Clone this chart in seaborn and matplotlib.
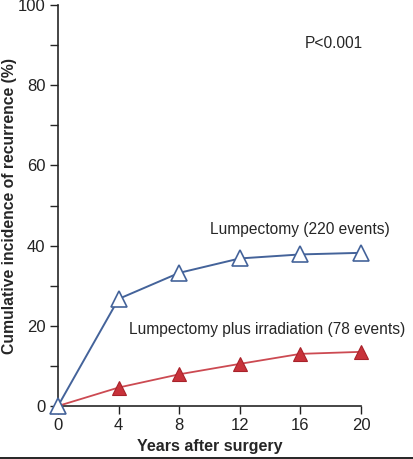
import matplotlib
matplotlib.use("Agg")
import matplotlib.pyplot as plt
import seaborn as sns
import pandas as pd

# data
years = [0, 4, 8, 12, 16, 20]
lumpectomy = [0, 26.7, 33.2, 36.8, 37.8, 38.2]
lump_irrad = [0, 4.6, 7.9, 10.5, 13.0, 13.5]

sns.set_style("ticks")
plt.rcParams['font.family'] = ['Liberation Sans', 'DejaVu Sans']

df = pd.DataFrame({
    "Years": years * 2,
    "Incidence": lumpectomy + lump_irrad,
    "Group": ["Lumpectomy"] * len(years) + ["Irradiation"] * len(years),
})

fig = plt.figure(figsize=(4.13, 4.59), dpi=100)
ax = fig.add_axes([0.1404, 0.1155, 0.7336, 0.8735])

blue = "#44639a"
red = "#c8323a"

sns.lineplot(data=df[df.Group == "Irradiation"], x="Years", y="Incidence", ax=ax,
             color="#cc4a52", lw=1.3, marker="^", markersize=10,
             markerfacecolor=red, markeredgecolor="#a8222a", markeredgewidth=0.8,
             clip_on=False, zorder=3)
sns.lineplot(data=df[df.Group == "Lumpectomy"], x="Years", y="Incidence", ax=ax,
             color=blue, lw=1.4, marker="^", markersize=11,
             markerfacecolor="white", markeredgecolor=blue, markeredgewidth=1.2,
             clip_on=False, zorder=4)

ax.set_xlim(0, 20)
ax.set_ylim(0, 100)
ax.set_xticks(years)
ax.set_yticks(range(0, 101, 20))
ax.set_yticks(range(10, 100, 20), minor=True)
ax.tick_params(axis="both", labelsize=12, length=6, width=1, pad=3, colors="#222222")
ax.tick_params(axis="y", which="minor", length=6, width=1)
sns.despine(ax=ax)
for s in ["left", "bottom"]:
    ax.spines[s].set_linewidth(1.2)

ax.set_xlabel("Years after surgery", fontsize=11.5, fontweight="bold", labelpad=4)
ax.set_ylabel("Cumulative incidence of recurrence (%)", fontsize=11.3,
              fontweight="bold")
ax.yaxis.set_label_coords(-0.135, 0.5)

ax.text(16.3, 90.5, "P<0.001", fontsize=11.2, ha="left", va="center")
ax.text(10.05, 44, "Lumpectomy (220 events)", fontsize=11.2, ha="left", va="center")
ax.text(4.7, 19, "Lumpectomy plus irradiation (78 events)", fontsize=11.2,
        ha="left", va="center")

fig.add_artist(plt.Line2D([0, 1], [0.003, 0.003], color="black", lw=1.2,
                          transform=fig.transFigure))

fig.savefig("out.png", dpi=100)
